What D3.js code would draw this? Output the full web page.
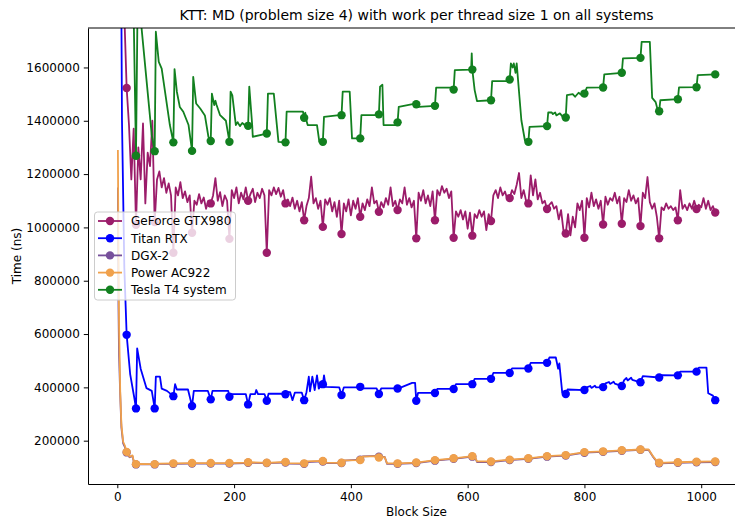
<!DOCTYPE html>
<html><head><meta charset="utf-8">
<script src="https://cdn.jsdelivr.net/npm/d3@7"></script>
<style>body{margin:0;background:#fff}svg{display:block}text{font-family:"DejaVu Sans",sans-serif;fill:#000}</style>
</head><body><svg id="chart" width="735" height="518"></svg>
<script>
// ---------- data (block size, time in thousands of ns) ----------
const seriesNames = ["GeForce GTX980", "Titan RTX", "DGX-2", "Power AC922", "Tesla T4 system"];
const seriesColors = ["#9b1c6a", "#0000ff", "#77509b", "#f0a14c", "#12801f"];
const xTicks = [0, 200, 400, 600, 800, 1000];
const yTicks = [200000, 400000, 600000, 800000, 1000000, 1200000, 1400000, 1600000];
const markerBlocks = [16,32,64,96,128,160,192,224,256,288,320,352,384,416,448,480,512,544,576,608,640,672,704,736,768,800,832,864,896,928,960,992,1024];

// GTX980: every 4th block size from 4 to 1024
const gtx980Blocks = d3.range(4, 1025, 4);
const gtx980 = [3500, 2400, 1800,
 1523,1384,1180,1370,1010,1300,1180,1390,
 1090,1280,1230,1400,1020,1180,1210,1150,
 1185,1130,1165,1120,905,1150,1120,1170,
 1110,1135,1095,1120,980,1100,1085,1125,
 1090,1112,1070,1100,1090,1120,1185,1100,
 1132,1080,1120,1100,957,1140,1110,1150,
 1090,1130,1105,1150,1100,1125,1145,1095,
 1130,1110,1145,1120,905,1140,1120,1150,
 1125,1148,1115,1140,1090,1105,1080,1112,
 1070,1100,1060,1095,1027,1080,1110,1190,
 1090,1110,1070,1100,1002,1105,1085,1110,
 1060,1095,1040,1100,975,1090,1060,1105,
 1045,1100,1070,1110,1040,1090,1065,1105,
 1080,1150,1090,1100,1059,1095,1075,1110,
 1085,1150,1080,1100,1065,1105,1090,1150,
 1085,1110,1075,1100,959,1130,1100,1140,
 1090,1120,1080,1135,1027,1140,1120,1155,
 1130,1145,1110,1135,961,1060,1040,1065,
 1030,1060,995,1055,969,1050,1035,1065,
 1040,1060,990,1050,1024,1120,1140,1110,
 1150,1120,1135,1105,1110,1140,1125,1160,
 1204,1110,1140,1100,1090,1195,1120,1180,
 1105,1130,1090,1100,1069,1085,1095,1070,
 1080,1030,1065,990,977,1050,970,1040,
 1000,1090,1065,1100,961,1110,1075,1130,
 1080,1105,1070,1100,1011,1115,1085,1110,
 1100,1130,1090,1115,1014,1110,1095,1140,
 1100,1120,1090,1110,1005,1130,1110,1189,
 1095,1070,1090,1040,959,1075,1065,1090,
 1070,1080,1065,1075,1027,1140,1070,1085,
 1065,1090,1070,1100,1069,1085,1075,1110,
 1070,1100,1065,1080,1056];

const titanRtx = [[1,6000],[4,3000],[8,1400],[12,850],[16,597],[22,450],[29,362],[32,321],[34,546],[40,470],[50,397],[59,387],[64,321],[66,440],[73,440],[76,395],[85,387],[96,367],[99,412],[102,392],[121,392],[128,330],[131,387],[155,387],[160,355],[163,387],[190,387],[192,365],[195,375],[220,375],[224,336],[228,375],[236,375],[238,390],[241,375],[252,375],[256,350],[259,376],[286,376],[288,374],[292,382],[296,382],[300,352],[304,380],[316,380],[320,352],[324,382],[328,440],[330,385],[334,440],[338,390],[342,445],[345,395],[350,412],[352,412],[354,445],[357,402],[380,400],[384,371],[388,400],[412,400],[416,402],[420,396],[444,396],[448,375],[452,396],[476,396],[480,396],[484,398],[505,417],[510,417],[512,350],[515,379],[544,379],[548,394],[576,394],[580,412],[608,412],[612,432],[640,432],[644,454],[672,454],[676,471],[704,471],[708,492],[736,492],[740,512],[751,512],[755,470],[757,490],[762,380],[768,375],[771,392],[800,390],[804,400],[810,405],[812,398],[818,406],[820,400],[832,401],[836,415],[842,420],[844,413],[850,421],[852,414],[864,405],[868,427],[872,435],[874,426],[880,436],[882,428],[896,419],[900,442],[928,437],[932,446],[960,445],[964,459],[992,459],[996,474],[1009,474],[1012,378],[1020,369],[1024,352]];

const dgx2 = [[1,1150],[2,700],[3,520],[5,370],[7,250],[10,190],[13,176],[16,156],[21,138],[26,142],[29,114],[32,111],[64,111],[70,113],[96,113],[128,114],[160,114],[192,114],[220,116],[224,117],[256,116],[286,118],[288,118],[292,114],[320,113],[324,120],[352,122],[356,116],[384,116],[388,125],[416,129],[420,141],[446,143],[448,140],[458,139],[462,113],[480,113],[512,116],[544,125],[576,132],[608,140],[612,140],[616,120],[640,120],[672,127],[704,132],[736,140],[768,144],[800,155],[832,158],[864,162],[896,166],[910,165],[918,138],[926,116],[928,115],[960,117],[992,119],[1024,120]];

const powerAc922 = [[1,1290],[2,900],[3,634],[5,384],[7,259],[10,196],[13,181],[16,158],[21,140],[26,145],[29,115],[32,112],[36,113],[60,112],[64,112],[70,114],[96,115],[128,116],[160,116],[192,116],[220,118],[224,119],[256,117],[286,120],[288,120],[292,116],[320,115],[324,122],[352,124],[356,118],[384,117],[388,126],[416,127],[420,140],[446,142],[448,137],[458,138],[462,115],[480,115],[512,118],[544,127],[576,134],[608,142],[612,142],[616,122],[640,122],[672,129],[704,134],[736,142],[768,146],[800,157],[832,160],[864,164],[896,167],[910,167],[918,140],[926,118],[928,117],[960,119],[992,121],[1024,122]];

const teslaT4 = [[16,2400],[28,1800],[32,1269],[35,1900],[41,1760],[59,1346],[64,1286],[66,1734],[71,1621],[76,1596],[90,1384],[96,1319],[98,1594],[102,1509],[107,1452],[113,1434],[122,1384],[128,1287],[130,1565],[135,1465],[142,1446],[150,1420],[156,1340],[160,1324],[162,1502],[166,1459],[168,1475],[170,1459],[176,1421],[186,1400],[192,1321],[194,1509],[197,1495],[203,1384],[206,1395],[210,1380],[214,1392],[218,1384],[224,1381],[226,1528],[231,1384],[232,1340],[256,1352],[258,1502],[268,1502],[276,1321],[288,1319],[290,1434],[318,1434],[320,1411],[322,1430],[324,1400],[326,1384],[342,1384],[346,1321],[352,1321],[354,1415],[380,1421],[384,1421],[386,1509],[398,1509],[402,1334],[416,1334],[418,1421],[444,1421],[448,1424],[450,1528],[454,1535],[456,1384],[476,1384],[480,1394],[482,1452],[510,1464],[512,1462],[516,1452],[544,1456],[546,1524],[572,1524],[576,1517],[578,1590],[606,1592],[607,1653],[608,1592],[612,1515],[616,1474],[640,1477],[642,1549],[668,1549],[672,1555],[674,1615],[677,1600],[679,1615],[682,1580],[684,1615],[692,1402],[698,1327],[704,1321],[706,1377],[736,1380],[738,1431],[744,1431],[746,1425],[750,1431],[752,1420],[758,1428],[764,1412],[768,1412],[770,1496],[780,1500],[784,1490],[790,1505],[796,1495],[800,1502],[804,1524],[832,1525],[834,1574],[864,1580],[866,1634],[896,1636],[898,1696],[912,1696],[916,1486],[922,1470],[926,1436],[928,1436],[930,1477],[960,1481],[962,1525],[992,1526],[994,1571],[1024,1574]];

// ---------- build ----------
const series = [
  gtx980Blocks.map((b, i) => [b, gtx980[i]]),
  titanRtx, dgx2, powerAc922, teslaT4
];

const svg = d3.select("#chart");
const L = 88, R = 745, T = 28, B = 484;
const x = d3.scaleLinear().domain([-50.2, 1075]).range([L, R]);
const y = d3.scaleLinear().domain([37500, 1748000]).range([B, T]);

svg.append("defs").append("clipPath").attr("id", "clip")
  .append("rect").attr("x", L).attr("y", T).attr("width", R - L).attr("height", B - T);

const plot = svg.append("g").attr("clip-path", "url(#clip)");
const line = d3.line().x(d => x(d[0])).y(d => y(d[1] * 1000));

series.forEach((data, i) => {
  const g = plot.append("g");
  g.append("path").datum(data).attr("d", line)
    .attr("fill", "none").attr("stroke", seriesColors[i])
    .attr("stroke-width", 1.8).attr("stroke-linejoin", "round");
  g.selectAll("circle").data(data.filter(d => markerBlocks.includes(d[0])))
    .join("circle").attr("cx", d => x(d[0])).attr("cy", d => y(d[1] * 1000))
    .attr("r", 4.2).attr("fill", seriesColors[i]);
});

// axes
const xAxis = d3.axisBottom(x).tickValues(xTicks).tickSize(4.2).tickPadding(4).tickSizeOuter(0).tickFormat(d3.format("d"));
const yAxis = d3.axisLeft(y).tickValues(yTicks).tickSize(4.2).tickPadding(4).tickSizeOuter(0).tickFormat(d3.format("d"));
const gx = svg.append("g").attr("transform", `translate(0,${B})`).call(xAxis);
const gy = svg.append("g").attr("transform", `translate(${L},0)`).call(yAxis);
[gx, gy].forEach(g => {
  g.selectAll("text").attr("font-size", 12).attr("font-family", "DejaVu Sans").attr("fill", "#000");
  g.selectAll("line").attr("stroke", "#000").attr("stroke-width", 1);
  g.select(".domain").attr("stroke", "#000").attr("stroke-width", 1);
});
svg.append("line").attr("x1", L).attr("x2", R).attr("y1", T).attr("y2", T).attr("stroke", "#000").attr("stroke-width", 1);
svg.append("line").attr("x1", R).attr("x2", R).attr("y1", T).attr("y2", B).attr("stroke", "#000").attr("stroke-width", 1);

// titles
svg.append("text").attr("x", (L + R) / 2).attr("y", 20).attr("text-anchor", "middle")
  .attr("font-size", 14).text("KTT: MD (problem size 4) with work per thread size 1 on all systems");
svg.append("text").attr("x", (L + R) / 2).attr("y", 516).attr("text-anchor", "middle")
  .attr("font-size", 12).text("Block Size");
svg.append("text").attr("transform", `translate(21,${(T + B) / 2}) rotate(-90)`).attr("text-anchor", "middle")
  .attr("font-size", 12).text("Time (ns)");

// legend
const lg = svg.append("g");
lg.append("rect").attr("x", 94.5).attr("y", 212).attr("width", 141).attr("height", 88).attr("rx", 3)
  .attr("fill", "#fff").attr("fill-opacity", 0.8).attr("stroke", "#cccccc").attr("stroke-width", 1);
seriesNames.forEach((name, i) => {
  const yy = 221 + i * 17.2;
  lg.append("line").attr("x1", 98).attr("x2", 122).attr("y1", yy).attr("y2", yy)
    .attr("stroke", seriesColors[i]).attr("stroke-width", 1.8);
  lg.append("circle").attr("cx", 110).attr("cy", yy).attr("r", 4.2).attr("fill", seriesColors[i]);
  lg.append("text").attr("x", 131).attr("y", yy).attr("dy", "0.36em").attr("font-size", 12).text(name);
});
</script></body></html>
